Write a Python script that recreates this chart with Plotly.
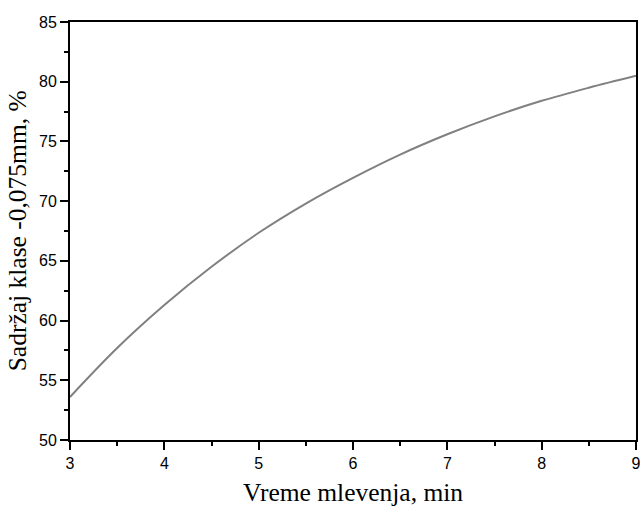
import plotly.graph_objects as go

time_min = [3, 3.5, 4, 4.5, 5, 5.5, 6, 6.5, 7, 7.5, 8, 8.5, 9]
content_pct = [53.6, 57.7, 61.3, 64.5, 67.35, 69.8, 71.95, 73.9, 75.6, 77.1, 78.4, 79.5, 80.5]

fig = go.Figure()
fig.add_trace(go.Scatter(x=time_min, y=content_pct, mode="lines",
                         line=dict(color="#808080", width=2, shape="spline"),
                         showlegend=False, cliponaxis=False))

axis_common = dict(showline=True, linecolor="black", linewidth=2, mirror=True,
                   ticks="outside", ticklen=8, tickwidth=2, tickcolor="black",
                   showgrid=False, zeroline=False, automargin=False,
                   ticklabeloverflow="allow",
                   tickfont=dict(family="Liberation Sans, Arial", size=16, color="black"))

fig.update_xaxes(range=[3, 9], dtick=1,
                 minor=dict(ticks="outside", ticklen=4, tickwidth=2, dtick=0.5, tickcolor="black"),
                 **axis_common)
fig.update_yaxes(range=[50, 85], dtick=5,
                 minor=dict(ticks="outside", ticklen=4, tickwidth=2, dtick=2.5, tickcolor="black"),
                 **axis_common)

title_font = dict(family="Liberation Serif, Times New Roman", size=25.5, color="black")
fig.add_annotation(text="Vreme mlevenja, min", xref="paper", yref="paper",
                   x=0.4993, y=-0.1245, xanchor="center", yanchor="middle",
                   showarrow=False, font=title_font)
fig.add_annotation(text="Sadržaj klase -0,075mm, %", xref="paper", yref="paper",
                   x=-0.093, y=0.5, xanchor="center", yanchor="middle",
                   textangle=-90, showarrow=False, font=title_font)

fig.update_layout(width=640, height=516, plot_bgcolor="white", paper_bgcolor="white",
                  margin=dict(l=70, r=4, t=22, b=76))

fig.write_html("out.html", config={"displayModeBar": False},
               post_script="document.body.style.margin='0';document.body.style.overflow='hidden';")
